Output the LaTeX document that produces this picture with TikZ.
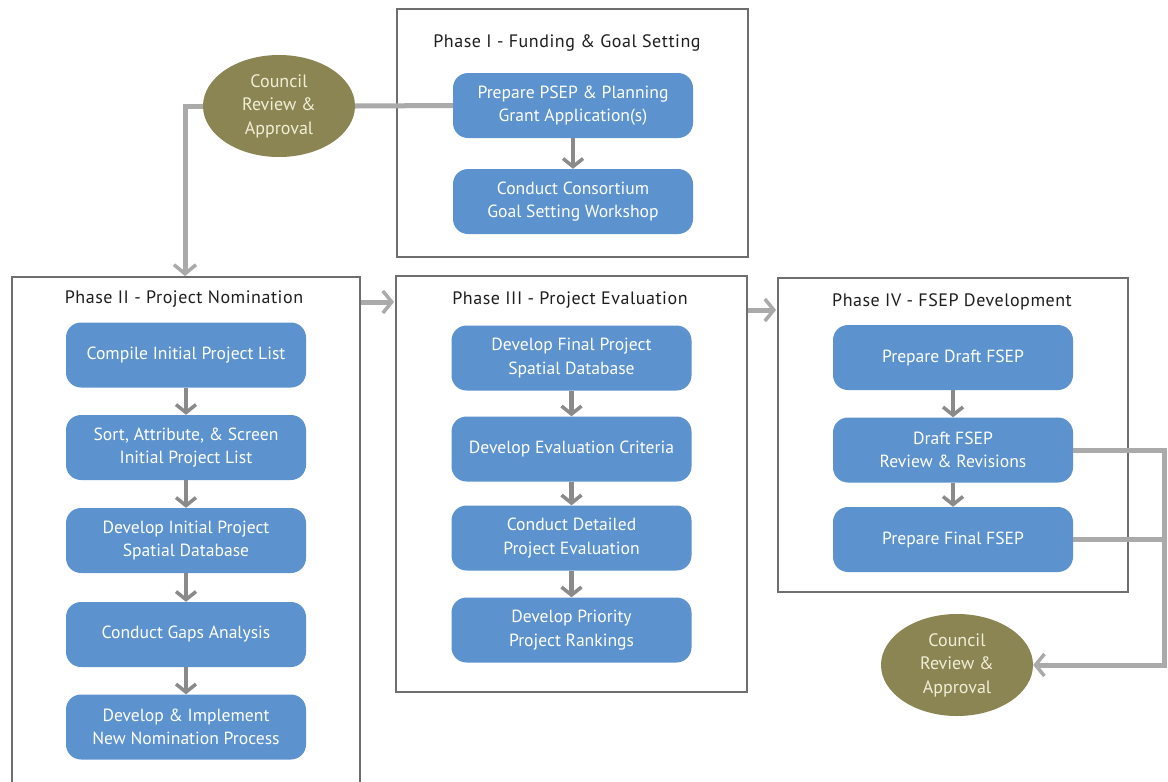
\documentclass[tikz,border=0pt]{standalone}
\usepackage{fontspec}
\setmainfont{PT Sans}
\newfontfamily\titlefont[LetterSpace=3]{PT Sans}
\usetikzlibrary{arrows.meta,shapes.geometric}
\definecolor{boxblue}{RGB}{92,147,206}
\definecolor{olive}{RGB}{138,133,82}
\definecolor{cream}{RGB}{242,238,214}
\definecolor{conngray}{RGB}{170,170,170}
\definecolor{stepgray}{RGB}{138,138,138}
\definecolor{framegray}{RGB}{110,110,110}
\definecolor{titlegray}{RGB}{30,30,30}
\tikzset{
  stepbox/.style={draw=none, fill=boxblue, rounded corners=15pt, minimum width=240pt, minimum height=65pt,
    text=white, align=center, font=\fontsize{17.6}{23.5}\selectfont, inner sep=2pt},
  council/.style={ellipse, fill=olive, minimum width=152pt, minimum height=102pt, inner sep=0pt,
    text=cream, align=center, font=\fontsize{18}{23.5}\selectfont},
  phaseframe/.style={draw=framegray, line width=1.8pt, inner sep=0pt},
  phasetitle/.style={text=titlegray, font=\titlefont\fontsize{18}{20}\selectfont},
  conn/.style={draw=conngray, line width=5pt},
  connarrow/.style={conn, -{Straight Barb[length=9pt,width=22pt,line width=3.5pt]}},
  steparrow/.style={draw=stepgray, line width=4.5pt, -{Straight Barb[length=8pt,width=20pt,line width=3.5pt]}}
}
\begin{document}
\begin{tikzpicture}[x=1pt,y=-1pt]
\useasboundingbox (0,0) rectangle (1168,782);
\fill[white] (0,0) rectangle (1168,782);

% frames
\node[phaseframe, minimum width=351pt, minimum height=248pt] (f1) at (572.5,133) {};
\node[phaseframe, minimum width=348pt, minimum height=530pt] (f2) at (186,542) {};
\node[phaseframe, minimum width=351pt, minimum height=416pt] (f3) at (571.5,484) {};
\node[phaseframe, minimum width=350pt, minimum height=314pt] (f4) at (953,435) {};

% titles
\node[phasetitle] (t1) at (567,43) {Phase I - Funding \& Goal Setting};
\node[phasetitle] (t2) at (184,299) {Phase II - Project Nomination};
\node[phasetitle] (t3) at (570,300) {Phase III - Project Evaluation};
\node[phasetitle] (t4) at (952,302) {Phase IV - FSEP Development};

% phase I
\node[stepbox] (a1) at (573,105.5) {Prepare PSEP \& Planning\\Grant Application(s)};
\node[stepbox] (a2) at (573,201.5) {Conduct Consortium\\Goal Setting Workshop};

% phase II
\node[stepbox] (b1) at (186,355) {Compile Initial Project List};
\node[stepbox] (b2) at (186,447.5) {Sort, Attribute, \& Screen\\Initial Project List};
\node[stepbox] (b3) at (186,540.5) {Develop Initial Project\\Spatial Database};
\node[stepbox] (b4) at (186,634.5) {Conduct Gaps Analysis};
\node[stepbox] (b5) at (186,727) {Develop \& Implement\\New Nomination Process};

% phase III
\node[stepbox] (c1) at (571.5,358) {Develop Final Project\\Spatial Database};
\node[stepbox] (c2) at (571.5,449) {Develop Evaluation Criteria};
\node[stepbox] (c3) at (571.5,538) {Conduct Detailed\\Project Evaluation};
\node[stepbox] (c4) at (571.5,630) {Develop Priority\\Project Rankings};

% phase IV
\node[stepbox] (d1) at (953,357.5) {Prepare Draft FSEP};
\node[stepbox] (d2) at (953,450) {Draft FSEP\\Review \& Revisions};
\node[stepbox] (d3) at (953,539.5) {Prepare Final FSEP};

% council ellipses
\node[council] (k1) at (279,106) {Council\\Review \&\\Approval};
\node[council] (k2) at (957,665) {Council\\Review \&\\Approval};

% step arrows
\foreach \u/\v in {a1/a2,b1/b2,b2/b3,b3/b4,b4/b5,c1/c2,c2/c3,c3/c4,d1/d2,d2/d3}
  \draw[steparrow] (\u.south) -- (\v.north);

% connectors
\coordinate (tl) at (185,106);
\coordinate (tlb) at (185,276);
\draw[conn] (a1.west) -- (k1.east);
\draw[connarrow] (k1.west) -- (tl) -- (tlb);

\coordinate (h23) at (0,302);
\draw[connarrow] (f2.east |- h23) -- ([xshift=-1pt]f3.west |- h23);
\coordinate (h34) at (0,310);
\draw[connarrow] (f3.east |- h34) -- ([xshift=-1pt]f4.west |- h34);

\coordinate (rr) at (1164,665);
\draw[conn] (d2.east) -| (rr);
\draw[conn] (d3.east) -- (d3.east -| rr);
\draw[connarrow] ([xshift=2.5pt]rr) -- (k2.east);
\end{tikzpicture}
\end{document}
